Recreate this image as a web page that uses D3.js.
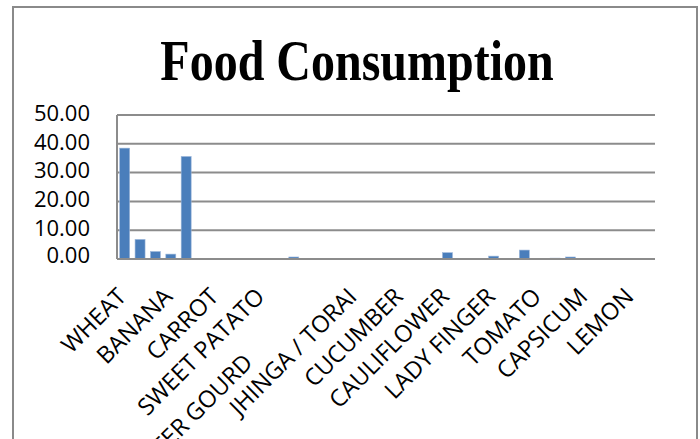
<!DOCTYPE html>
<html>
<head>
<meta charset="utf-8">
<script src="https://cdn.jsdelivr.net/npm/d3@7"></script>
<style>
  body { margin: 0; background: #fff; }
  svg { display: block; }
</style>
</head>
<body>
<svg id="canvas" width="700" height="439"></svg>
<script>
// values per food item, one bar each (35 items, only every third one is named on the axis)
var values = [38.5, 6.8, 2.6, 1.7, 35.6, 0, 0.15, 0, 0.15, 0,
              0, 0.7, 0, 0, 0, 0, 0, 0, 0, 0,
              0, 2.2, 0, 0.15, 1.0, 0, 3.1, 0.2, 0.3, 0.7,
              0, 0, 0, 0, 0.15];

// axis labels that are shown (at item 0, 3, 6, ...)
var labels = ["WHEAT", "BANANA", "CARROT", "SWEET PATATO", "BITTER GOURD", "JHINGA / TORAI",
              "CUCUMBER", "CAULIFLOWER", "LADY FINGER", "TOMATO", "CAPSICUM", "LEMON"];

var yTicks = [0, 10, 20, 30, 40, 50];

var canvas = d3.select("#canvas")

var plot_left = 117
var plot_right = 655
var plot_top = 115
var plot_bottom = 259

// outer frame
canvas.append("rect")
    .attr("x", 13)
    .attr("y", 7)
    .attr("width", 684)
    .attr("height", 450)
    .style("fill", "none")
    .style("stroke", "#8a8a8a")
    .style("stroke-width", 2)

// title
canvas.append("text")
    .attr("transform", "translate(357,80) scale(1,1.2)")
    .attr("text-anchor", "middle")
    .style("font-family", "'Liberation Serif', 'Times New Roman', serif")
    .style("font-weight", "bold")
    .style("font-size", "48px")
    .style("fill", "#000")
    .text("Food Consumption")

var x = d3.scaleBand()
    .domain(d3.range(values.length))
    .range([plot_left, plot_right])
    .paddingInner(0.35)
    .paddingOuter(0.175)

var y = d3.scaleLinear()
    .domain([0, 50])
    .range([plot_bottom, plot_top])

// gridlines
canvas.append("g")
    .selectAll("line")
    .data(yTicks)
    .enter()
    .append("line")
    .attr("x1", plot_left)
    .attr("x2", plot_right)
    .attr("y1", function(d){ return y(d) })
    .attr("y2", function(d){ return y(d) })
    .style("stroke", "#8c8c8c")
    .style("stroke-width", 2)

// left axis line
canvas.append("line")
    .attr("x1", plot_left)
    .attr("x2", plot_left)
    .attr("y1", plot_top)
    .attr("y2", plot_bottom)
    .style("stroke", "#8c8c8c")
    .style("stroke-width", 2)

// y tick labels
canvas.append("g")
    .selectAll("text")
    .data(yTicks)
    .enter()
    .append("text")
    .attr("x", 90)
    .attr("y", function(d){ return y(d) - (d > 0 ? 2 : 4) })
    .attr("dy", "0.35em")
    .attr("text-anchor", "end")
    .style("font-family", "'Open Sans', sans-serif")
    .style("font-size", "22px")
    .style("fill", "#000")
    .text(function(d){ return d3.format(".2f")(d) })

// bars
canvas.append("g")
    .selectAll("rect")
    .data(values)
    .enter()
    .append("rect")
    .attr("x", function(d, i){ return x(i) })
    .attr("width", x.bandwidth())
    .attr("y", function(d){ return y(d) })
    .attr("height", function(d){ return plot_bottom - y(d) })
    .style("fill", "#4a7ebb")
    .style("stroke", "#9db7da")
    .style("stroke-width", 0.6)

// redraw the base line over the bars
canvas.append("line")
    .attr("x1", plot_left)
    .attr("x2", plot_right)
    .attr("y1", y(0))
    .attr("y2", y(0))
    .style("stroke", "#8c8c8c")
    .style("stroke-width", 2)

// x labels, rotated, every third item
canvas.append("g")
    .selectAll("text")
    .data(labels)
    .enter()
    .append("text")
    .attr("text-anchor", "end")
    .attr("transform", function(d, i){
        var cx = x(i * 3) + x.bandwidth() / 2
        var lx = cx + 3
        var ly = 298
        // this one sits further down its slant in the original
        if (d == "BITTER GOURD") { lx -= 58; ly += 66 }
        return "translate(" + lx + "," + ly + ") rotate(-45)"
    })
    .style("font-family", "'Open Sans', sans-serif")
    .style("font-size", "23.5px")
    .style("fill", "#000")
    .text(function(d){ return d })
</script>
</body>
</html>
